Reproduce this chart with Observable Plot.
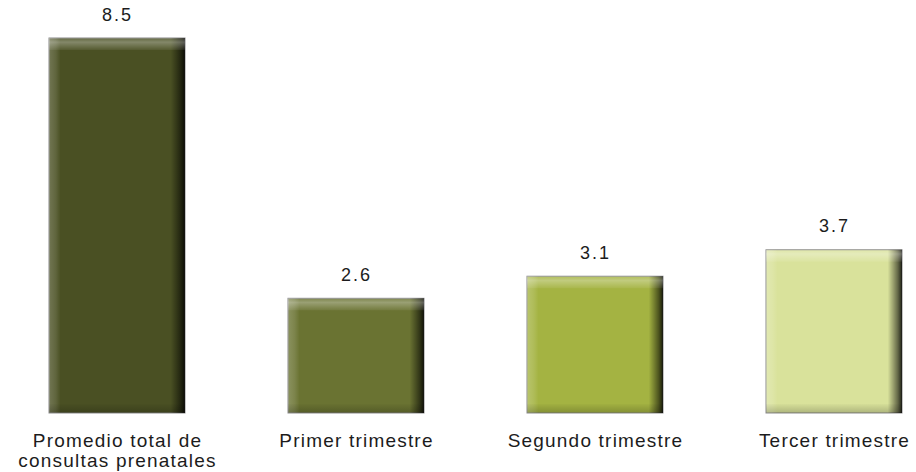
<!DOCTYPE html>
<html>
<head>
<meta charset="utf-8">
<script src="https://cdn.jsdelivr.net/npm/d3@7"></script>
<script src="https://cdn.jsdelivr.net/npm/@observablehq/plot@0.6"></script>
<style>
  html, body { margin: 0; padding: 0; background: #ffffff; }
  #chart { width: 916px; height: 472px; }
</style>
</head>
<body>
<div id="chart"></div>
<script>
// Data
const categories = [
  "Promedio total de\nconsultas prenatales",
  "Primer trimestre",
  "Segundo trimestre",
  "Tercer trimestre"
];
const values = [8.5, 2.6, 3.1, 3.7];
const valueLabels = ["8.5", "2.6", "3.1", "3.7"];
const palette = ["#4a5023", "#6a7332", "#a4b342", "#d9e29b"];

const data = categories.map((c, i) => ({ cat: c, value: values[i], label: valueLabels[i] }));

// Gradient definitions for bevel effect
function defs() {
  const d = d3.create("svg:defs");
  const h = d.append("linearGradient").attr("id", "hEdge")
    .attr("x1", 0).attr("x2", 1).attr("y1", 0).attr("y2", 0);
  [[0, "#fff", 0.22], [0.05, "#fff", 0.12], [0.085, "#fff", 0],
   [0.895, "#000", 0], [0.93, "#000", 0.25], [0.97, "#000", 0.55], [1, "#000", 0.85]]
    .forEach(([o, c, a]) => h.append("stop").attr("offset", o).attr("stop-color", c).attr("stop-opacity", a));
  const t = d.append("linearGradient").attr("id", "topHi")
    .attr("x1", 0).attr("x2", 0).attr("y1", 0).attr("y2", 1);
  [[0, "#fff", 0.14], [0.35, "#fff", 0.32], [1, "#fff", 0.06]]
    .forEach(([o, c, a]) => t.append("stop").attr("offset", o).attr("stop-color", c).attr("stop-opacity", a));
  const b = d.append("linearGradient").attr("id", "botSh")
    .attr("x1", 0).attr("x2", 0).attr("y1", 0).attr("y2", 1);
  [[0, "#000", 0.02], [1, "#000", 0.2]]
    .forEach(([o, c, a]) => b.append("stop").attr("offset", o).attr("stop-color", c).attr("stop-opacity", a));
  return d.node();
}

const chart = Plot.plot({
  width: 916,
  height: 472,
  marginTop: 38,
  marginBottom: 59,
  marginLeft: 49,
  marginRight: 13,
  x: { domain: categories, paddingInner: 0.43, paddingOuter: 0 },
  y: { domain: [0, 8.5], axis: null },
  color: { domain: categories, range: palette },
  style: { fontFamily: "'Liberation Sans', Arial, sans-serif", background: "#ffffff" },
  marks: [
    defs,
    Plot.barY(data, { x: "cat", y: "value", fill: "cat", stroke: "#8a8a8a", strokeWidth: 1 }),
    Plot.barY(data, { x: "cat", y: "value", fill: "url(#hEdge)" }),
    Plot.barY(data, { x: "cat", y1: "value", y2: "value", insetBottom: -12, fill: "url(#topHi)" }),
    Plot.barY(data, { x: "cat", y1: 0, y2: 0, insetTop: -9, fill: "url(#botSh)" }),
    Plot.text(data, { x: "cat", y: "value", text: "label", dy: -18, lineAnchor: "bottom",
      fontSize: 18, fill: "#1c1c1c", className: "vlabel" }),
    Plot.axisX({ tickSize: 0, tickPadding: 19, fontSize: 19, lineHeight: 1.06, fill: "#1c1c1c", label: null, className: "xlabel" })
  ]
});

d3.select(chart).selectAll(".xlabel text").style("letter-spacing", "1.2px");
d3.select(chart).selectAll(".vlabel text").style("letter-spacing", "2px");

document.getElementById("chart").appendChild(chart);
</script>
</body>
</html>
